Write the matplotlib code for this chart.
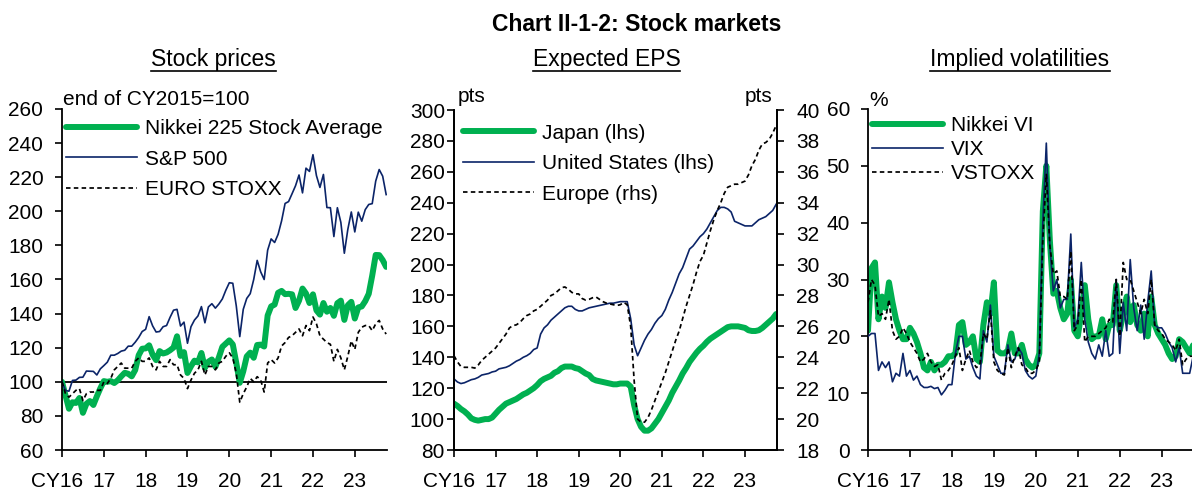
import numpy as np
import matplotlib
matplotlib.use("Agg")
import matplotlib.pyplot as plt
import matplotlib.transforms as mtransforms
from matplotlib.lines import Line2D

plt.rcParams['font.family'] = ['Liberation Sans', 'DejaVu Sans']

# ---------------- data ----------------
# monthly observations, Dec 2015 (index 0) .. Sep 2023
n_months = 94
year_ticks = [2016, 2017, 2018, 2019, 2020, 2021, 2022, 2023]
year_labels = ["CY16", "17", "18", "19", "20", "21", "22", "23"]

# Panel 1: stock prices (end of CY2015 = 100)
nikkei225 = [100,
    92.0, 84.2, 88.0, 87.6, 90.5, 81.8, 87.1, 88.7, 86.4, 91.5, 96.2, 100.4,
    100.0, 100.4, 99.3, 100.9, 103.2, 105.3, 104.7, 103.2, 106.9, 115.6, 119.4, 119.6,
    121.4, 115.9, 112.7, 118.0, 116.6, 117.2, 118.5, 120.1, 126.7, 115.2, 117.4, 105.2,
    109.1, 112.4, 111.4, 116.9, 108.2, 111.8, 113.1, 108.8, 114.3, 120.5, 122.4, 124.3,
    121.9, 111.1, 99.4, 106.1, 114.9, 117.1, 114.1, 121.6, 121.8, 120.7, 138.9, 144.2,
    145.3, 152.2, 153.3, 151.4, 151.6, 151.3, 143.3, 147.6, 154.7, 151.8, 146.2, 151.3,
    141.9, 139.4, 146.2, 141.1, 143.3, 138.7, 146.1, 147.6, 136.3, 144.9, 146.9, 137.1,
    143.6, 144.2, 147.3, 151.6, 162.3, 174.4, 174.3, 171.4, 167.4]
sp500 = [100,
    94.9, 94.5, 100.8, 101.0, 102.6, 102.7, 106.3, 106.2, 106.1, 104.0, 107.6, 109.5,
    111.5, 115.6, 115.6, 116.6, 118.0, 118.5, 120.9, 120.9, 123.2, 126.0, 129.5, 130.8,
    138.2, 132.8, 129.2, 129.5, 132.3, 133.0, 137.8, 142.0, 142.5, 132.7, 135.0, 122.6,
    132.3, 136.2, 138.6, 144.1, 134.6, 143.9, 145.8, 143.2, 145.6, 148.6, 153.7, 158.1,
    157.8, 144.5, 126.5, 142.5, 148.9, 151.7, 160.0, 171.2, 164.5, 160.0, 177.2, 183.8,
    181.7, 186.5, 194.4, 204.6, 205.7, 210.3, 215.0, 221.3, 210.8, 225.3, 223.4, 233.2,
    220.9, 214.0, 221.6, 202.2, 202.1, 185.2, 202.1, 193.5, 175.4, 189.4, 199.6, 187.9,
    199.5, 194.2, 201.0, 204.0, 204.5, 217.7, 224.5, 220.6, 209.8]
eurostoxx = [100,
    93, 91, 93, 95, 96, 89, 93, 94, 94, 95, 95, 100,
    99, 102, 107, 109, 111, 108, 108, 108, 112, 114, 112, 112,
    114, 109, 107, 112, 109, 109, 113, 110, 110, 104, 102, 96,
    101, 105, 107, 112, 104, 109, 109, 107, 111, 112, 115, 117,
    114, 105, 88, 93, 97, 102, 100, 103, 101, 94, 111, 113,
    111, 114, 121, 123, 126, 127, 129, 131, 127, 133, 130, 138,
    134, 127, 125, 123, 122, 112, 119, 114, 107, 115, 124, 119,
    129, 132, 133, 133, 130, 134, 136, 131, 128]

# Panel 2: expected EPS (Japan, US: lhs; Europe: rhs)
eps_japan = [
    110, 108.5, 106.5, 105, 103, 100.5, 99.5, 99, 99.5, 100, 100, 101,
    103.5, 106, 108, 110, 111, 112, 113, 114.5, 116, 117, 118.5, 120,
    122, 124.5, 126, 127, 128, 130, 131, 133, 134, 134, 134, 133,
    132.5, 131, 129.5, 128.5, 126, 125, 124.5, 124, 123.5, 123, 122.5, 122.5,
    123, 123, 123, 121, 109, 100, 95, 92.5, 92.5, 94, 97, 100,
    104, 108, 112, 117, 121, 125, 129.5, 133, 137, 140, 143, 145.5,
    147.5, 150, 152, 153.5, 155, 156.5, 158, 159.5, 160, 160, 160, 159.5,
    159, 157.5, 157, 157, 157.5, 159, 161, 163, 165, 168]
eps_us = [
    126, 124, 123, 123.5, 124.5, 125.5, 126, 127, 128.5, 129, 129.5, 130.5,
    131, 132.5, 133, 133.5, 134.5, 136, 137.5, 138.5, 140, 141, 142.5, 145,
    146, 155, 159, 161, 164, 166, 168, 170, 172, 173, 173, 171,
    170, 170, 171, 172, 172.5, 173, 173.5, 174, 174.5, 175, 175, 175.5,
    176, 176, 176, 165, 148, 141, 146, 151, 155, 158, 162, 165,
    167, 171, 177, 182, 188, 194, 198, 204, 210, 212, 215, 218,
    220, 223, 227, 231, 235, 237, 237, 236, 234, 228, 227, 226,
    225, 225, 225, 227, 229, 230, 231, 233, 235, 239]
eps_europe = [
    24.1, 23.7, 23.4, 23.35, 23.35, 23.35, 23.3, 23.5, 23.8, 24.0, 24.2, 24.4,
    24.6, 24.9, 25.2, 25.5, 25.9, 26.05, 26.1, 26.25, 26.5, 26.7, 26.8, 27.0,
    27.1, 27.3, 27.5, 27.7, 28.0, 28.1, 28.3, 28.5, 28.55, 28.4, 28.2, 28.1,
    28.1, 27.8, 27.7, 27.75, 27.85, 27.9, 27.75, 27.6, 27.5, 27.45, 27.4, 27.35,
    27.4, 27.55, 27.4, 26.0, 22.5, 20.0, 19.8, 19.8, 20.1, 20.6, 21.2, 21.8,
    22.4, 23.0, 23.7, 24.4, 25.1, 25.7, 26.5, 27.3, 28.0, 28.7, 29.5, 30.2,
    30.6, 31.4, 32.2, 32.9, 33.5, 34.0, 34.6, 35.0, 35.1, 35.2, 35.2, 35.3,
    35.4, 35.8, 36.4, 36.8, 37.4, 37.8, 37.9, 38.1, 38.5, 39.0]

# Panel 3: implied volatilities (%)
nikkei_vi = [
    21, 32, 33, 23, 27, 25, 29.5, 26, 23, 21, 19.5, 19.5,
    21.5, 20.5, 19, 17, 14.5, 14, 15.5, 14, 15, 15, 15.5, 16.5,
    16.5, 17, 22, 22.5, 18.5, 19, 20, 16, 15.5, 22, 26, 24,
    29.5, 17.5, 17, 17, 17.5, 20.5, 17, 17, 18.5, 16, 15, 14.5,
    15, 17, 42, 50, 37, 27.5, 28, 25, 23, 24, 30, 21,
    20, 24, 29, 23, 19.5, 20, 20, 23, 19.5, 22, 22, 29,
    21, 24, 27, 22.5, 25.5, 22, 21, 24, 20, 27, 22, 20.5,
    19.5, 18.5, 17, 16, 16.5, 19.5, 19, 18, 17, 18.5]
vix = [
    20, 20.5, 20.5, 14, 15.5, 14.5, 15.5, 12, 13.5, 13, 17, 13,
    14, 12.3, 13, 11.5, 11, 11, 11.2, 10.8, 11, 9.7, 10.5, 11.5,
    11.5, 17, 20, 20, 16, 16.5, 14.5, 13, 12.5, 21, 19, 25.5,
    16.5, 15, 13.5, 13.5, 18.5, 15.5, 16, 18, 17, 14, 13, 12.5,
    13, 17, 40, 54, 36, 28, 30, 25, 26.5, 26.5, 38, 21.5,
    23, 33, 23, 19, 17, 16, 18.5, 16.5, 21, 16.5, 17, 30,
    17, 26, 21, 33.5, 25, 21, 25.5, 19.5, 26, 31.5, 22, 21.5,
    21.5, 20.5, 19, 18, 15.5, 18, 13.5, 13.5, 13.5, 16.5]
vstoxx = [
    26, 30, 29, 23.5, 24, 23, 26.5, 21, 19.5, 20, 21.5, 20.5,
    19, 18, 17, 15.5, 16, 17, 15.5, 14.7, 15, 12.3, 13.5, 14,
    15, 16.5, 18, 14, 16, 17.5, 15.5, 14.5, 15, 20.5, 19.5, 24.5,
    15.5, 14, 13.5, 13.2, 18, 14.5, 16.5, 18, 15, 14.5, 13.5, 13.5,
    14, 15.5, 37, 48.5, 36, 31, 31.5, 27, 27, 26.5, 35, 21,
    22, 30, 19, 20, 20, 20, 20.5, 21, 21.5, 23, 22.5, 30,
    20, 33, 30, 30, 28, 26, 24, 26.5, 24, 30, 22, 21,
    20.5, 19.5, 19, 18.5, 17.5, 19.5, 15, 16, 16.5, 16.5]

months = 2016 + np.arange(n_months) / 12.0

# ---------------- style ----------------
GREEN = '#00B050'
NAVY = '#0B2468'
FS = 15
W, H = 1192, 490
DPI = 100

fig = plt.figure(figsize=(W / DPI, H / DPI), dpi=DPI)


def px_axes(left, right, top, bottom):
    return fig.add_axes([left / W, (H - bottom) / H, (right - left) / W, (bottom - top) / H])


def style_axes(ax, ypad, right_spine=False):
    ax.spines['top'].set_visible(False)
    ax.spines['right'].set_visible(right_spine)
    for s in ax.spines.values():
        s.set_linewidth(1.3)
    ax.tick_params(axis='both', direction='out', length=5, width=1.2, labelsize=FS)
    ax.tick_params(axis='y', pad=ypad)
    ax.tick_params(axis='x', pad=11)
    ax.set_xlim(2016, 2023.77)
    ax.set_xticks(year_ticks)
    ax.set_xticklabels(year_labels)
    lab0 = ax.get_xticklabels()[0]
    lab0.set_horizontalalignment('right')
    lab0.set_transform(lab0.get_transform() +
                       mtransforms.ScaledTranslation(21 / DPI, 0, fig.dpi_scale_trans))


lw_thick = 4.3
lw_dash = 1.25
dash = (0, (2.6, 1.9))
leg_kw = dict(frameon=False, fontsize=FS, handlelength=3.4, handletextpad=0.4,
              borderpad=0, borderaxespad=0)

# ---------- Panel 1 ----------
ax1 = px_axes(62, 387, 109, 450)
style_axes(ax1, ypad=8.5)
ax1.set_ylim(60, 260)
ax1.set_yticks(np.arange(60, 261, 20))
ax1.axhline(100, color='black', lw=1.3, zorder=1)
ax1.plot(months, nikkei225, color=GREEN, lw=lw_thick, solid_capstyle='round',
         label='Nikkei 225 Stock Average', zorder=2)
ax1.plot(months, sp500, color=NAVY, lw=1.2, label='S&P 500', zorder=3)
ax1.plot(months, eurostoxx, color='black', lw=lw_dash, linestyle=dash, label='EURO STOXX', zorder=3)
ax1.legend(loc='upper left', bbox_to_anchor=(0.012, 0.97), labelspacing=0.55, **leg_kw)
ax1.text(0.003, 1.012, 'end of CY2015=100', transform=ax1.transAxes, fontsize=FS,
         ha='left', va='baseline')

# ---------- Panel 2 ----------
ax2 = px_axes(454, 777, 110, 450)
style_axes(ax2, ypad=1.5, right_spine=True)
ax2.set_ylim(80, 300)
ax2.set_yticks(np.arange(80, 301, 20))
l1, = ax2.plot(months, eps_japan, color=GREEN, lw=lw_thick, solid_capstyle='round',
               label='Japan (lhs)')
l2, = ax2.plot(months, eps_us, color=NAVY, lw=1.2, label='United States (lhs)')
ax2r = ax2.twinx()
ax2r.set_ylim(18, 40)
ax2r.set_yticks(np.arange(18, 41, 2))
ax2r.spines['top'].set_visible(False)
for s in ax2r.spines.values():
    s.set_linewidth(1.3)
ax2r.tick_params(axis='y', direction='out', length=5, width=1.2, labelsize=FS, pad=9)
l3, = ax2r.plot(months, eps_europe, color='black', lw=lw_dash, linestyle=dash, label='Europe (rhs)')
ax2r.legend(handles=[l1, l2, l3], loc='upper left', bbox_to_anchor=(0.027, 0.96),
            labelspacing=0.55, **leg_kw)
ax2.text(0.01, 1.024, 'pts', transform=ax2.transAxes, fontsize=FS, ha='left', va='baseline')
ax2.text(0.985, 1.024, 'pts', transform=ax2.transAxes, fontsize=FS, ha='right', va='baseline')

# ---------- Panel 3 ----------
ax3 = px_axes(868, 1192 + 2, 109, 450)
style_axes(ax3, ypad=8)
ax3.set_ylim(0, 60)
ax3.set_yticks(np.arange(0, 61, 10))
ax3.plot(months, nikkei_vi, color=GREEN, lw=lw_thick, solid_capstyle='round',
         solid_joinstyle='round', label='Nikkei VI', zorder=2)
ax3.plot(months, vix, color=NAVY, lw=1.2, label='VIX', zorder=3)
ax3.plot(months, vstoxx, color='black', lw=lw_dash, linestyle=dash, label='VSTOXX', zorder=4)
ax3.legend(loc='upper left', bbox_to_anchor=(0.012, 0.98), labelspacing=0.25, **leg_kw)
ax3.text(0.004, 1.01, '%', transform=ax3.transAxes, fontsize=FS, ha='left', va='baseline')

# ---------- titles ----------
fig.text(637 / W, (H - 31) / H, 'Chart II-1-2: Stock markets', fontsize=16.5, fontweight='bold',
         ha='center', va='baseline')

sub_specs = [('Stock prices', 213.5), ('Expected EPS', 606.5), ('Implied volatilities', 1020)]
sub_texts = []
for s, cx in sub_specs:
    t = fig.text(cx / W, (H - 66) / H, s, fontsize=16.5, ha='center', va='baseline')
    sub_texts.append(t)

fig.canvas.draw()
renderer = fig.canvas.get_renderer()
for t in sub_texts:
    bb = t.get_window_extent(renderer)
    yline = (H - 71) / H
    fig.add_artist(Line2D([bb.x0 / W, bb.x1 / W], [yline, yline], transform=fig.transFigure,
                          color='black', lw=1.2))

fig.savefig('out.png', dpi=DPI)
